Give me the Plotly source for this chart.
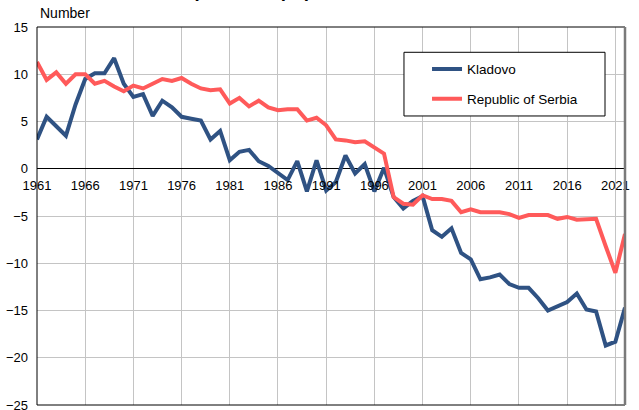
import plotly.graph_objects as go

years = list(range(1961, 2023))

kladovo = [3.1, 5.5, 4.5, 3.5, 6.8, 9.5, 10.1, 10.1, 11.7, 9.0,
           7.6, 7.9, 5.6, 7.2, 6.5, 5.5, 5.3, 5.1, 3.1, 4.0,
           0.9, 1.8, 2.0, 0.8, 0.3, -0.5, -1.2, 0.8, -2.4, 0.9,
           -2.3, -1.4, 1.4, -0.5, 0.5, -2.4, 0.1, -3.0, -4.2, -3.4,
           -2.9, -6.5, -7.2, -6.3, -8.9, -9.6, -11.7, -11.5, -11.2, -12.2,
           -12.6, -12.6, -13.7, -15.0, -14.6, -14.1, -13.2, -14.9, -15.1, -18.7,
           -18.3, -14.7]

serbia = [11.3, 9.4, 10.2, 9.0, 10.0, 10.0, 9.0, 9.3, 8.7, 8.2,
          8.8, 8.5, 9.0, 9.5, 9.3, 9.6, 9.0, 8.5, 8.3, 8.4,
          6.9, 7.5, 6.6, 7.2, 6.5, 6.2, 6.3, 6.3, 5.1, 5.4,
          4.6, 3.1, 3.0, 2.8, 2.9, 2.2, 1.6, -3.0, -3.7, -3.8,
          -2.8, -3.2, -3.2, -3.4, -4.6, -4.3, -4.6, -4.6, -4.6, -4.8,
          -5.2, -4.9, -4.9, -4.9, -5.3, -5.1, -5.4, -5.4, -5.3, -8.2,
          -11.0, -6.9]

series_names = ["Kladovo", "Republic of Serbia"]
title_text = "Natural increase per 1,000 population, Kladovo"
y_label = "Number"

FONT = "Liberation Sans, Arial, sans-serif"
BLUE = "#2F5283"
RED = "#FF5A5A"

fig = go.Figure()
fig.add_trace(go.Scatter(x=years, y=kladovo, mode="lines", name=series_names[0],
                         line=dict(color=BLUE, width=4), legendgroup="a", legendrank=1))
fig.add_trace(go.Scatter(x=years, y=serbia, mode="lines", name=series_names[1],
                         line=dict(color=RED, width=4), legendgroup="b", legendrank=2))

fig.update_layout(
    width=639, height=410,
    margin=dict(l=37, r=14, t=27, b=5, autoexpand=False),
    paper_bgcolor="white", plot_bgcolor="white",
    font=dict(family=FONT, size=13, color="black"),
    showlegend=True,
    legend=dict(x=0.6633, xanchor="left", y=0.929, yanchor="top",
                bgcolor="rgba(0,0,0,0)", borderwidth=0,
                font=dict(size=13.5), traceorder="grouped", tracegroupgap=9),
    xaxis=dict(range=[1961, 2022], tick0=1961, dtick=5, anchor="free", position=0.625,
               showgrid=True, gridcolor="#c4c4c4", gridwidth=1, showline=False,
               zeroline=False, ticks="", ticklabelstandoff=7, automargin=False,
               tickfont=dict(size=13)),
    yaxis=dict(range=[-25, 15], dtick=5, showgrid=True, gridcolor="#c4c4c4", gridwidth=1,
               zeroline=True, zerolinecolor="black", zerolinewidth=1, automargin=False,
               showline=False, ticks="", ticklabelstandoff=8, ticklabeloverflow="allow",
               tickfont=dict(size=13)),
    shapes=[
        dict(type="rect", xref="paper", yref="paper", x0=0, x1=1, y0=0, y1=1,
             line=dict(color="black", width=1), layer="above"),
        dict(type="line", xref="paper", yref="paper", x0=1, x1=1, y0=0, y1=1,
             line=dict(color="#7a7a7a", width=2.5), layer="above"),
        dict(type="rect", xref="paper", yref="paper", x0=0.6241, x1=0.966, y0=0.7646, y1=0.9331,
             line=dict(color="black", width=1), fillcolor="white", layer="above"),
    ],
    annotations=[
        dict(text=y_label, xref="paper", yref="paper", x=0.0017, y=1.037,
             xanchor="left", yanchor="middle", showarrow=False, font=dict(size=14)),
        dict(text="<b>" + title_text + "</b>", xref="paper", yref="paper", x=0.0085, y=1.096,
             xanchor="left", yanchor="middle", showarrow=False, font=dict(size=18.7)),
    ],
)

fig.write_html("out.html", config={"displayModeBar": False},
               post_script="document.body.style.margin='0px';document.body.style.overflow='hidden';")
